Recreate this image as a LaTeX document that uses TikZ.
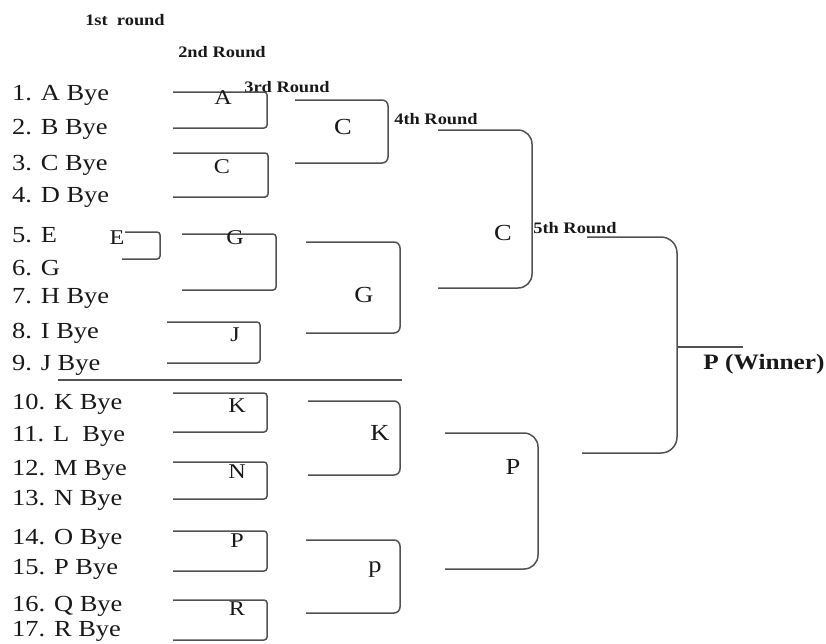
\documentclass[tikz,border=0pt]{standalone}
\usepackage{fontspec}
\setmainfont{Liberation Serif}[FakeStretch=1.15]
\usetikzlibrary{positioning}

\begin{document}
\begin{tikzpicture}[x=1pt, y=-1pt]
  \tikzstyle{entry}=[anchor=west, inner sep=0pt, text=black!90, font=\fontsize{23}{23}\selectfont]
  \tikzstyle{pick}=[inner sep=0pt, text=black!90, font=\fontsize{21}{21}\selectfont]
  \tikzstyle{bigpick}=[inner sep=0pt, text=black!90, font=\fontsize{23}{23}\selectfont]
  \tikzstyle{head}=[inner sep=0pt, text=black!90, font=\bfseries\fontsize{16}{16}\selectfont]
  \tikzstyle{bracket}=[draw=black!68, line width=1.5pt, rounded corners=3pt]
  \useasboundingbox (0,0) rectangle (826,643);

  % round headings
  \node[head] (h1) at (125,20) {1st\ \ round};
  \node[head] (h2) at (222,52) {2nd Round};
  \node[head] (h3) at (287,87) {3rd Round};
  \node[head] (h4) at (436,119) {4th Round};
  \node[head] (h5) at (575,228) {5th Round};

  % players
  \foreach \i/\t/\y in {1/1. A Bye/95, 2/2. B Bye/129, 3/3. C Bye/165, 4/4. D Bye/197,
      5/5. E/235, 6/6. G/268, 7/7. H Bye/298, 8/8. I Bye/333, 9/9. J Bye/365,
      10/10. K Bye/404, 11/11. L\ \ Bye/436, 12/12. M Bye/470, 13/13. N Bye/500,
      14/14. O Bye/539, 15/15. P Bye/569, 16/16. Q Bye/606, 17/17. R Bye/631}
    \node[entry] (pl\i) at (12,\y) {\t};

  \coordinate (sepl) at (58,380);
  \coordinate (sepr) at (402,380);
  \draw[bracket] (sepl) -- (sepr);

  % 2nd round
  \coordinate (Et) at (125,232);
  \coordinate (Eb) at (122,259);
  \draw[bracket] (Et) -- ++(35,0) |- (Eb);
  \foreach \n/\xl/\w/\yt/\yb in {A/173/94/92/128, C/173/95/153/197, G/182/94/234/290,
      J/167/93/322/363, K/173/94/393/432, N/173/94/462/499, P/173/94/531/571, R/173/94/600/640} {
    \coordinate (\n t) at (\xl,\yt);
    \coordinate (\n b) at (\xl,\yb);
    \draw[bracket] (\n t) -- ++(\w,0) |- (\n b);
  }
  \node[pick] (lE) at (117,238) {E};
  \foreach \n/\x/\y in {A/223/98, C/222/167, G/235/238, J/235/335, K/237/406,
      N/237/472, P/237/541, R/237/609}
    \node[pick] (l\n) at (\x,\y) {\n};

  % 3rd round
  \foreach \n/\xl/\w/\yt/\yb in {Ct/295/93/100/163, Gt/306/94/242/333,
      Kt/308/92/401/475, pt/306/94/540/613} {
    \coordinate (\n t) at (\xl,\yt);
    \coordinate (\n b) at (\xl,\yb);
    \draw[bracket, rounded corners=6pt] (\n t) -- ++(\w,0) |- (\n b);
  }
  \node[bigpick] (lCt) at (343,127) {C};
  \node[bigpick] (lGt) at (364,295) {G};
  \node[bigpick] (lKt) at (380,433) {K};
  \node[bigpick] (lpt) at (375,570) {p};

  % 4th round
  \foreach \n/\xl/\w/\yt/\yb in {Cf/438/94/130/288, Pf/445/93/433/569} {
    \coordinate (\n t) at (\xl,\yt);
    \coordinate (\n b) at (\xl,\yb);
    \draw[bracket, rounded corners=14pt] (\n t) -- ++(\w,0) |- (\n b);
  }
  \node[bigpick] (lCf) at (503,233) {C};
  \node[bigpick] (lPf) at (513,467) {P};

  % 5th round and winner
  \coordinate (Wt) at (587,237);
  \coordinate (Wb) at (582,453);
  \draw[bracket, rounded corners=16pt] (Wt) -- ++(90,0) |- (Wb);
  \coordinate (wj) at (677,347);
  \coordinate (we) at (743,347);
  \draw[bracket] (wj) -- (we);
  \node[inner sep=0pt, text=black!90, font=\bfseries\fontsize{22}{22}\selectfont] (win) at (764,364) {P (Winner)};
\end{tikzpicture}
\end{document}
